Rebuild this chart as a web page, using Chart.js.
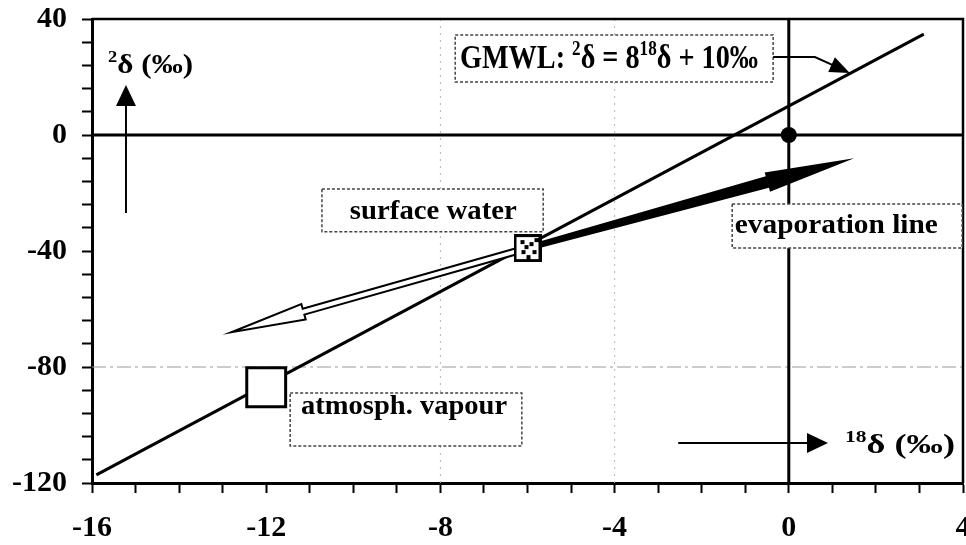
<!DOCTYPE html>
<html>
<head>
<meta charset="utf-8">
<script src="https://cdn.jsdelivr.net/npm/chart.js@4/dist/chart.umd.min.js"></script>
<style>
  html, body { margin: 0; padding: 0; background: #fff; }
  #wrap { width: 966px; height: 545px; }
</style>
</head>
<body>
<div id="wrap"><canvas id="c" width="966" height="545"></canvas></div>
<script>
// Axis ranges and labelled tick values
const xRange = [-16, 4];
const yRange = [-120, 40];
const xLabelTicks = [-16, -12, -8, -4, 0, 4];
const yLabelTicks = [-120, -80, -40, 0, 40];

// Global meteoric water line (two end points)
const gmwlX = [-15.9, 3.1];
const gmwlY = [-117.2, 34.8];

// Sample points [18δ, 2δ]
const surfaceWater = [-6, -39];
const atmVapour = [-12, -87];
const origin = [0, 0];

// Arrow tips leaving the surface water point
const evapTip = [1.5, -8];
const backTip = [-12.8, -68];

const SERIF = '"Liberation Serif", "Times New Roman", serif';

function checkerMarker() {
  const c = document.createElement('canvas');
  c.width = 28; c.height = 28;
  const g = c.getContext('2d');
  g.fillStyle = '#fff'; g.fillRect(0, 0, 28, 28);
  g.fillStyle = '#000';
  [[7, 6], [16, 8], [19, 16], [8, 16], [13, 21], [21, 4], [11, 11]].forEach(([a, b]) => g.fillRect(a, b, 4, 4));
  g.lineWidth = 3; g.strokeStyle = '#000';
  g.strokeRect(1.5, 1.5, 25, 25);
  return c;
}

// text with superscripts, stretched to a given width
function drawRich(ctx, parts, x, y, size, width) {
  const fontFor = p => 'bold ' + (p.sup ? Math.round(size * 0.6) : size) + 'px ' + SERIF;
  let total = 0;
  parts.forEach(p => { ctx.font = fontFor(p); total += ctx.measureText(p.t).width; });
  const sx = width ? width / total : 1;
  ctx.save();
  ctx.translate(x, y);
  ctx.scale(sx, 1);
  ctx.fillStyle = '#000';
  ctx.textBaseline = 'alphabetic';
  ctx.textAlign = 'left';
  let cx = 0;
  parts.forEach(p => {
    ctx.font = fontFor(p);
    ctx.fillText(p.t, cx, p.sup ? -size * 0.4 : 0);
    cx += ctx.measureText(p.t).width;
  });
  ctx.restore();
}

function box(ctx, x1, y1, x2, y2) {
  ctx.save();
  ctx.fillStyle = '#fff';
  ctx.fillRect(x1, y1, x2 - x1, y2 - y1);
  ctx.strokeStyle = '#444';
  ctx.lineWidth = 1.5;
  ctx.setLineDash([3, 2]);
  ctx.strokeRect(x1, y1, x2 - x1, y2 - y1);
  ctx.restore();
}

function headAt(ctx, from, tip, len, half) {
  const dx = tip[0] - from[0], dy = tip[1] - from[1], L = Math.hypot(dx, dy);
  const ux = dx / L, uy = dy / L;
  const bx = tip[0] - ux * len, by = tip[1] - uy * len;
  ctx.beginPath();
  ctx.moveTo(tip[0], tip[1]);
  ctx.lineTo(bx - uy * half, by + ux * half);
  ctx.lineTo(bx + uy * half, by - ux * half);
  ctx.closePath();
  ctx.fill();
}

function simpleArrow(ctx, pts, len, half, lw) {
  ctx.save();
  ctx.strokeStyle = '#000'; ctx.fillStyle = '#000'; ctx.lineWidth = lw;
  const n = pts.length;
  const a = pts[n - 2], b = pts[n - 1];
  const L = Math.hypot(b[0] - a[0], b[1] - a[1]);
  const end = [b[0] - (b[0] - a[0]) / L * (len - 2), b[1] - (b[1] - a[1]) / L * (len - 2)];
  ctx.beginPath();
  ctx.moveTo(pts[0][0], pts[0][1]);
  for (let i = 1; i < n - 1; i++) ctx.lineTo(pts[i][0], pts[i][1]);
  ctx.lineTo(end[0], end[1]);
  ctx.stroke();
  headAt(ctx, a, b, len, half);
  ctx.restore();
}

function wideArrow(ctx, p0, p1, o) {
  const dx = p1[0] - p0[0], dy = p1[1] - p0[1], L = Math.hypot(dx, dy);
  const ux = dx / L, uy = dy / L, nx = -uy, ny = ux;
  const hb = L - o.headLen;
  const pt = (s, w) => [p0[0] + ux * s + nx * w, p0[1] + uy * s + ny * w];
  const pts = [pt(0, o.w0), pt(hb, o.w1), pt(hb, o.wh), p1, pt(hb, -o.wh), pt(hb, -o.w1), pt(0, -o.w0)];
  ctx.beginPath();
  pts.forEach((q, i) => (i ? ctx.lineTo(q[0], q[1]) : ctx.moveTo(q[0], q[1])));
  ctx.closePath();
}

const decor = {
  id: 'decor',
  beforeDatasetsDraw(chart) {
    const { ctx, chartArea: a, scales: { x, y } } = chart;
    ctx.save();
    // dashed grid line at -80 and dotted verticals
    ctx.strokeStyle = '#9a9a9a'; ctx.lineWidth = 1;
    ctx.setLineDash([14, 4, 3, 4]);
    const y80 = y.getPixelForValue(-80);
    ctx.beginPath(); ctx.moveTo(a.left, y80); ctx.lineTo(a.right, y80); ctx.stroke();
    ctx.strokeStyle = '#b5b5b5';
    ctx.setLineDash([2, 5]);
    [-8, -4].forEach(v => {
      const px = x.getPixelForValue(v);
      ctx.beginPath(); ctx.moveTo(px, a.top); ctx.lineTo(px, a.bottom); ctx.stroke();
    });
    ctx.setLineDash([]);
    // frame
    ctx.strokeStyle = '#000'; ctx.lineWidth = 2.5;
    ctx.beginPath();
    ctx.moveTo(a.left, a.top); ctx.lineTo(a.right, a.top); ctx.lineTo(a.right, a.bottom);
    ctx.stroke();
    // zero lines
    ctx.lineWidth = 3;
    const x0 = x.getPixelForValue(0), y0 = y.getPixelForValue(0);
    ctx.beginPath();
    ctx.moveTo(a.left, y0); ctx.lineTo(a.right, y0);
    ctx.moveTo(x0, a.top); ctx.lineTo(x0, a.bottom);
    ctx.stroke();
    ctx.restore();
  },
  afterDatasetDraw(chart, args) {
    if (args.index !== 3) return;
    const { ctx, scales: { x, y } } = chart;
    const P = p => [x.getPixelForValue(p[0]), y.getPixelForValue(p[1])];
    ctx.save();
    // evaporation arrow (solid)
    ctx.fillStyle = '#000';
    wideArrow(ctx, P(surfaceWater), P(evapTip), { w0: 3, w1: 6, wh: 10, headLen: 90 });
    ctx.fill();
    // reverse arrow (open)
    ctx.fillStyle = '#fff'; ctx.strokeStyle = '#000'; ctx.lineWidth = 2; ctx.lineJoin = 'miter';
    wideArrow(ctx, P(surfaceWater), P(backTip), { w0: 3, w1: 3, wh: 8, headLen: 75 });
    ctx.fill(); ctx.stroke();
    ctx.restore();
  },
  afterDatasetsDraw(chart) {
    const { ctx, scales: { x, y } } = chart;
    const P = (u, v) => [x.getPixelForValue(u), y.getPixelForValue(v)];
    const X = u => x.getPixelForValue(u), Y = v => y.getPixelForValue(v);

    // GMWL equation box and its pointer
    box(ctx, X(-7.66), Y(34.5), X(-0.36), Y(18.3));
    drawRich(ctx, [{ t: 'GMWL: ' }, { t: '2', sup: true }, { t: 'δ = 8' }, { t: '18', sup: true }, { t: 'δ + 10‰' }],
      X(-7.55), Y(23.1), 33, 298);
    simpleArrow(ctx, [P(-0.36, 26.9), P(0.6, 26.9), P(1.4, 21.4)], 20, 8, 2);

    // surface water
    box(ctx, X(-10.72), Y(-18.6), X(-5.64), Y(-33.4));
    drawRich(ctx, [{ t: 'surface water' }], X(-10.08), Y(-29.0), 27, 167);

    // evaporation line
    box(ctx, X(-1.3), Y(-23.8), X(3.98), Y(-39.0));
    drawRich(ctx, [{ t: 'evaporation line' }], X(-1.24), Y(-33.8), 27, 203);

    // atmospheric vapour
    box(ctx, X(-11.45), Y(-89.0), X(-6.13), Y(-107.2));
    drawRich(ctx, [{ t: 'atmosph. vapour' }], X(-11.2), Y(-96.2), 27, 206);

    // axis titles with direction arrows
    drawRich(ctx, [{ t: '2', sup: true }, { t: 'δ (‰)' }], X(-15.63), Y(21.4), 27, 85);
    simpleArrow(ctx, [P(-15.22, -26.9), P(-15.22, 17.2)], 21, 10, 2);
    drawRich(ctx, [{ t: '18', sup: true }, { t: 'δ (‰)' }], X(1.29), Y(-109.7), 27, 110);
    simpleArrow(ctx, [P(-2.54, -106.2), P(0.9, -106.2)], 21, 10, 2);
  }
};

const tickFont = { family: SERIF, weight: 'bold', size: 30 };

new Chart(document.getElementById('c'), {
  type: 'scatter',
  data: {
    datasets: [
      { label: 'origin', data: [{ x: origin[0], y: origin[1] }], pointRadius: 8,
        pointBackgroundColor: '#000', pointBorderWidth: 0, showLine: false },
      { label: 'surface water', data: [{ x: surfaceWater[0], y: surfaceWater[1] }], pointStyle: checkerMarker(),
        pointRadius: 14, showLine: false },
      { label: 'atmosph. vapour', data: [{ x: atmVapour[0], y: atmVapour[1] }], pointStyle: 'rect',
        pointRadius: 27.5, pointBackgroundColor: '#fff', pointBorderColor: '#000', pointBorderWidth: 3, showLine: false },
      { label: 'GMWL', data: gmwlX.map((v, i) => ({ x: v, y: gmwlY[i] })), showLine: true,
        borderColor: '#000', borderWidth: 3, pointRadius: 0 }
    ]
  },
  options: {
    responsive: false,
    animation: false,
    devicePixelRatio: 1,
    layout: { autoPadding: false, padding: { top: 19, right: 3, left: 0, bottom: 0 } },
    plugins: { legend: { display: false }, tooltip: { enabled: false } },
    scales: {
      x: {
        type: 'linear', min: xRange[0], max: xRange[1],
        border: { display: true, color: '#000', width: 3 },
        grid: { drawOnChartArea: false, tickLength: 10, tickColor: '#000', tickWidth: 2 },
        ticks: {
          stepSize: 1, autoSkip: false, maxRotation: 0, padding: 17, color: '#000', font: tickFont,
          callback: v => (xLabelTicks.includes(v) ? String(v) : '')
        },
        afterFit(s) { s.height = 62; s.paddingLeft = 0; s.paddingRight = 0; }
      },
      y: {
        type: 'linear', min: yRange[0], max: yRange[1],
        border: { display: true, color: '#000', width: 3 },
        grid: { drawOnChartArea: false, tickLength: 10, tickColor: '#000', tickWidth: 2 },
        ticks: {
          stepSize: 8, autoSkip: false, padding: 15, color: '#000', font: tickFont,
          callback: v => (yLabelTicks.includes(v) ? String(v) : '')
        },
        afterFit(s) { s.width = 92; s.paddingTop = 0; s.paddingBottom = 0; }
      }
    }
  },
  plugins: [decor]
});
</script>
</body>
</html>
